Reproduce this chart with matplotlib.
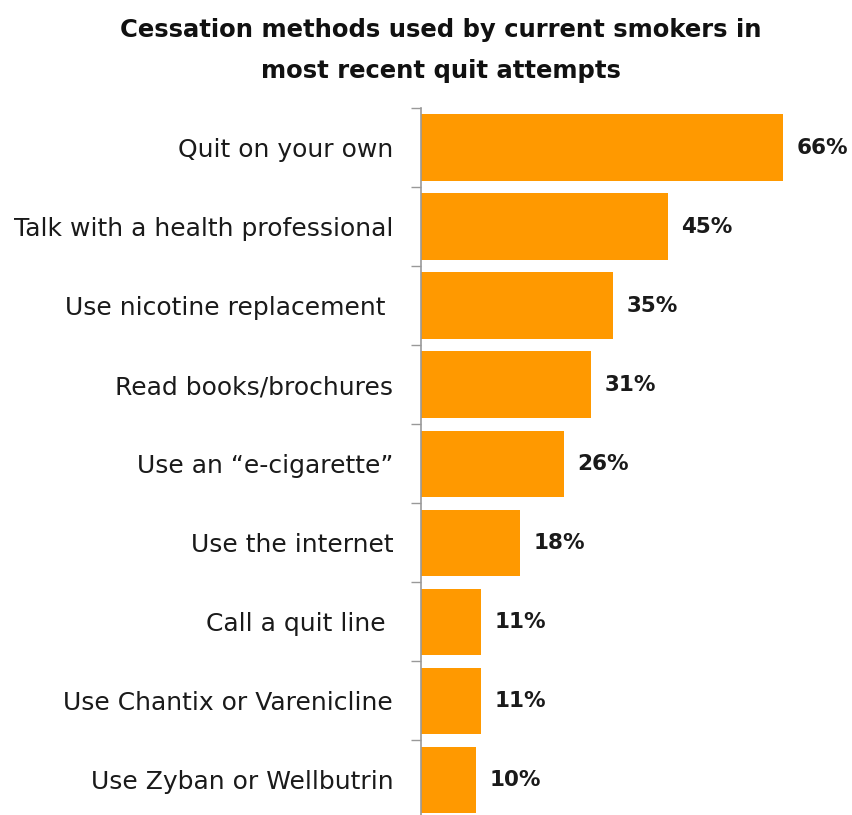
import matplotlib
matplotlib.use("Agg")
import matplotlib.pyplot as plt
import numpy as np

categories = ["Quit on your own", "Talk with a health professional", "Use nicotine replacement ",
              "Read books/brochures", "Use an \u201ce-cigarette\u201d", "Use the internet",
              "Call a quit line ", "Use Chantix or Varenicline", "Use Zyban or Wellbutrin"]
values = [66, 45, 35, 31, 26, 18, 11, 11, 10]
labels = ["66%", "45%", "35%", "31%", "26%", "18%", "11%", "11%", "10%"]

plt.rcParams['font.family'] = ['DejaVu Sans']
fig = plt.figure(figsize=(8.52, 8.15), dpi=100)
ax = fig.add_axes([421/852, -0.0055, 80*5.485/852, 0.873])

y = np.arange(len(categories))
ax.barh(y, values, height=0.84, color="#FF9900")
ax.set_ylim(len(categories) - 0.5, -0.5)
ax.set_xlim(0, 80)
for yi, v, lab in zip(y, values, labels):
    ax.text(v + 2.5, yi, lab, va="center", ha="left", fontsize=15.5, fontweight="bold", color="#1a1a1a")

ax.set_yticks(y)
ax.set_yticklabels(categories, fontsize=18, color="#1a1a1a")
ax.tick_params(axis="y", which="major", length=0, pad=20)
ax.set_yticks(np.arange(-0.5, len(categories) + 0.5, 1), minor=True)
ax.tick_params(axis="y", which="minor", length=7, color="#999999", width=1)
ax.set_xticks([])
for s in ["top", "right", "bottom"]:
    ax.spines[s].set_visible(False)
ax.spines["left"].set_color("#999999")
ax.spines["left"].set_linewidth(1.2)

fig.text(0.517, 0.978, "Cessation methods used by current smokers in\nmost recent quit attempts",
         ha="center", va="top", fontsize=17.5, fontweight="bold", linespacing=1.9, color="#111111")

fig.savefig("out.png", dpi=100)
